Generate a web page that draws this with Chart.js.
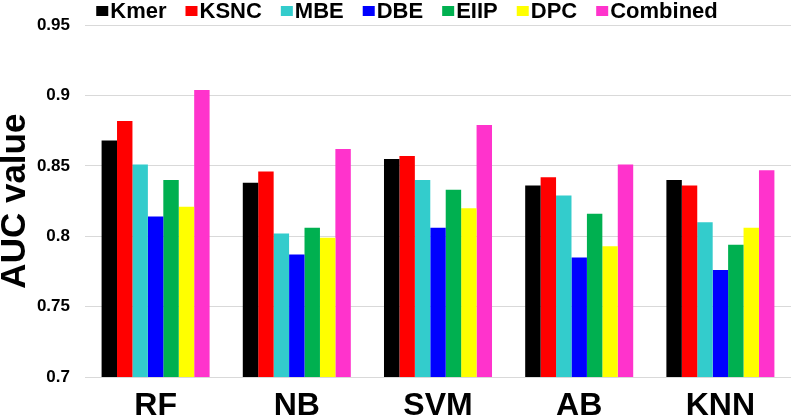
<!DOCTYPE html>
<html>
<head>
<meta charset="utf-8">
<script src="https://cdn.jsdelivr.net/npm/chart.js@4"></script>
<style>
  html, body { margin: 0; padding: 0; background: #fff; }
  #wrap { width: 794px; height: 416px; }
</style>
</head>
<body>
<div id="wrap"><canvas id="chart" width="794" height="416"></canvas></div>
<script>
const classifiers = ['RF', 'NB', 'SVM', 'AB', 'KNN'];
const kmer     = [0.868, 0.838, 0.855, 0.836, 0.840];
const ksnc     = [0.882, 0.846, 0.857, 0.842, 0.836];
const mbe      = [0.851, 0.802, 0.840, 0.829, 0.810];
const dbe      = [0.814, 0.787, 0.806, 0.785, 0.776];
const eiip     = [0.840, 0.806, 0.833, 0.816, 0.794];
const dpc      = [0.821, 0.799, 0.820, 0.793, 0.806];
const combined = [0.904, 0.862, 0.879, 0.851, 0.847];
const yTicks = [0.7, 0.75, 0.8, 0.85, 0.9, 0.95];
const yTickLabels = ['0.7', '0.75', '0.8', '0.85', '0.9', '0.95'];

const FONT = '"Liberation Sans", Arial, sans-serif';

function ds(label, data, color) {
    return { label: label, data: data, backgroundColor: color, borderWidth: 0 };
}

// legend drawn by hand so the box/text spacing matches the original
const topLegend = {
    id: 'topLegend',
    afterDraw(chart) {
        const ctx = chart.ctx;
        const sets = chart.data.datasets;
        ctx.save();
        ctx.font = 'bold 22px ' + FONT;
        ctx.textBaseline = 'middle';
        const boxW = 12, boxH = 10, gap = 2, between = 19;
        let widths = sets.map(s => boxW + gap + ctx.measureText(s.label).width);
        let total = widths.reduce((a, b) => a + b, 0) + between * (sets.length - 1);
        let x = 407 - total / 2;
        const y = 11;
        sets.forEach((s, i) => {
            ctx.fillStyle = s.backgroundColor;
            ctx.fillRect(x, y - boxH / 2, boxW, boxH);
            ctx.fillStyle = '#000';
            ctx.fillText(s.label, x + boxW + gap, y + 1);
            x += widths[i] + between;
        });
        ctx.restore();
    }
};

new Chart(document.getElementById('chart').getContext('2d'), {
    type: 'bar',
    data: {
        labels: classifiers,
        datasets: [
            ds('Kmer', kmer, '#000000'),
            ds('KSNC', ksnc, '#ff0000'),
            ds('MBE', mbe, '#33cccc'),
            ds('DBE', dbe, '#0000ff'),
            ds('EIIP', eiip, '#00b050'),
            ds('DPC', dpc, '#ffff00'),
            ds('Combined', combined, '#ff33cc')
        ]
    },
    options: {
        responsive: false,
        animation: false,
        layout: { padding: { top: 25, right: 3, left: 0, bottom: 0 } },
        datasets: { bar: { categoryPercentage: 0.765, barPercentage: 1.0 } },
        plugins: {
            legend: { display: false },
            tooltip: { enabled: false }
        },
        scales: {
            x: {
                grid: { display: false },
                border: { display: false },
                ticks: { color: '#000', font: { family: FONT, size: 32, weight: 'bold' }, padding: 2 },
                afterFit(scale) { scale.height = 39; }
            },
            y: {
                min: 0.7,
                max: 0.95,
                afterBuildTicks(scale) { scale.ticks = yTicks.map(v => ({ value: v })); },
                grid: { color: '#d9d9d9', lineWidth: 1, drawTicks: false },
                border: { display: false },
                ticks: {
                    color: '#000',
                    padding: 15,
                    font: { family: FONT, size: 17, weight: 'bold' },
                    callback: (v, i) => yTickLabels[i]
                },
                title: {
                    display: true,
                    text: 'AUC value',
                    color: '#000',
                    padding: 0,
                    font: { family: FONT, size: 35, weight: 'bold', lineHeight: 0.85 }
                },
                afterFit(scale) { scale.width = 85; }
            }
        }
    },
    plugins: [topLegend]
});
</script>
</body>
</html>
